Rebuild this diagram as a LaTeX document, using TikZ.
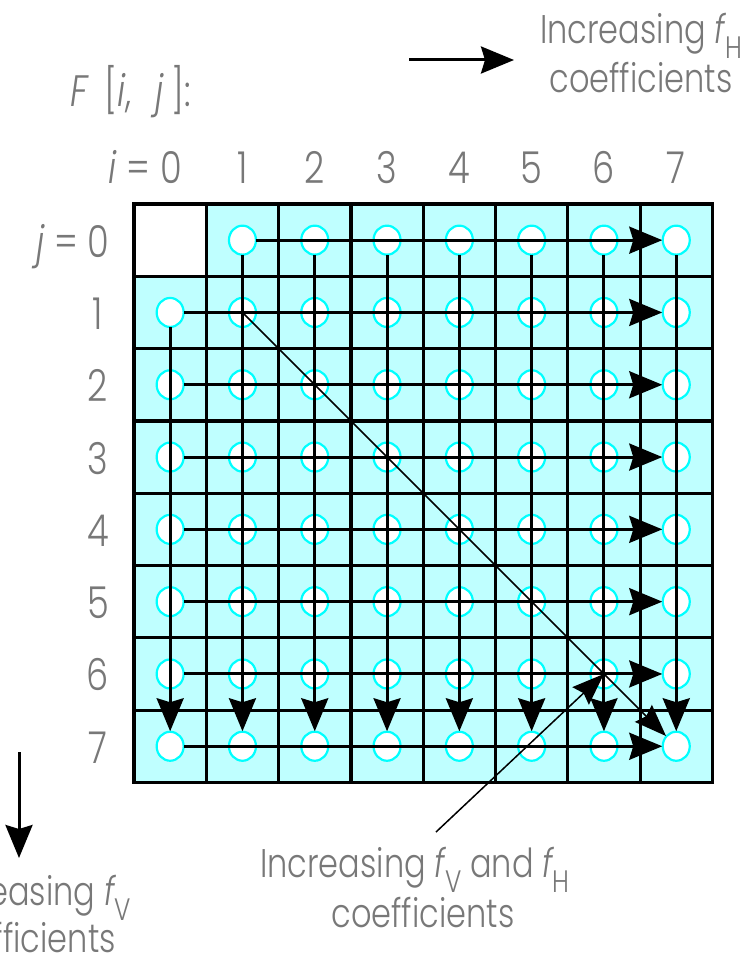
\documentclass[tikz,border=0pt]{standalone}
\usepackage{fontspec}
\IfFontExistsTF{Poppins Light}{\setmainfont{Poppins Light}[FakeStretch=0.8]}{\setmainfont{Poppins}[FakeStretch=0.8]}
\usetikzlibrary{arrows.meta,shapes.geometric}
\definecolor{cellfill}{RGB}{191,255,255}
\definecolor{ringcol}{RGB}{0,255,255}
\definecolor{txtgray}{RGB}{120,120,120}
\newcommand{\myfsub}[1]{{\itshape f}\raisebox{-15pt}{\fontsize{31}{33}\selectfont #1}}
\begin{document}
\begin{tikzpicture}[x=1pt,y=-1pt,
  cellbox/.style={draw=black, line width=3.2pt, fill=cellfill, minimum size=72.3pt, inner sep=0pt, outer sep=0pt},
  blankbox/.style={cellbox, fill=white},
  ring/.style={ellipse, draw=ringcol, line width=2.2pt, fill=white, minimum width=27pt, minimum height=29pt, inner sep=0pt, outer sep=0.5pt},
  flow/.style={line width=3pt, -{Stealth[length=33pt,width=27pt,inset=4pt]}},
  diag/.style={line width=1.5pt, -{Stealth[length=32pt,width=24pt,inset=4pt]}},
  lbl/.style={text=txtgray, font=\fontsize{44}{50}\selectfont, inner sep=0pt},
  captxt/.style={text=txtgray, font=\fontsize{40}{46}\selectfont, inner sep=0pt},
]
\useasboundingbox (0,0) rectangle (754,955);
\clip (0,0) rectangle (754,955);
% grid cells
\foreach \r in {0,...,7}{
  \foreach \c in {0,...,7}{
    \ifnum\r=0 \ifnum\c=0
      \node[blankbox] (k-\r-\c) at ({134+72.3*(\c+0.5)},{204+72.3*(\r+0.5)}) {};
    \else
      \node[cellbox] (k-\r-\c) at ({134+72.3*(\c+0.5)},{204+72.3*(\r+0.5)}) {};
    \fi\else
      \node[cellbox] (k-\r-\c) at ({134+72.3*(\c+0.5)},{204+72.3*(\r+0.5)}) {};
    \fi
  }
}
% coefficient circles
\foreach \r in {0,...,7}{
  \foreach \c in {0,...,7}{
    \ifnum\r=0 \ifnum\c=0 \else
      \node[ring] (c-\r-\c) at (k-\r-\c.center) {};
    \fi\else
      \node[ring] (c-\r-\c) at (k-\r-\c.center) {};
    \fi
  }
}
% horizontal flows
\draw[flow] (c-0-1) -- (c-0-7);
\foreach \r in {1,...,7}{ \draw[flow] (c-\r-0) -- (c-\r-7); }
% vertical flows
\draw[flow] (c-1-0) -- (c-7-0);
\foreach \c in {1,...,7}{ \draw[flow] (c-0-\c) -- (c-7-\c); }
% diagonal
\draw[diag] (c-1-1.center) -- (c-7-7);
\coordinate (pstart) at (436,832);
\draw[diag] (pstart) -- (c-6-6.center);
% legend arrows
\coordinate (ta) at (409,60);
\coordinate (tb) at (514,60);
\draw[flow] (ta) -- (tb);
\coordinate (la) at (19,752);
\coordinate (lb) at (19,858);
\draw[flow] (la) -- (lb);
% column labels
\node[lbl, anchor=base] (col0) at (171,183) {0};
\node[lbl, anchor=base east] (ieq) at (150,183) {{\itshape i} =};
\foreach \c in {1,...,7}{
  \node[lbl, anchor=base] (col\c) at ({134+72.3*(\c+0.5)},183) {\c};
}
% row labels
\foreach \r in {0,...,7}{
  \node[lbl, anchor=base] (row\r) at (98,{204+72.3*(\r+0.5)+17}) {\r};
}
\node[lbl, anchor=base east] (jeq) at (78,257) {{\itshape j} =};
% title
\node[lbl, anchor=base west] (title) at (70,107) {{\itshape F}\, [{\itshape i},\,\, {\itshape j}\,]:};
% captions
\node[captxt, anchor=base west] (capH1) at (540,44) {Increasing \myfsub{H}};
\node[captxt, anchor=base] (capH2) at (641,93) {coefficients};
\node[captxt, anchor=base west] (capD1) at (260,877) {Increasing \myfsub{V} and \myfsub{H}};
\node[captxt, anchor=base] (capD2) at (423,927) {coefficients};
\node[captxt, anchor=base east] (capV1) at (131,905) {Increasing \myfsub{V}};
\node[captxt, anchor=base east] (capV2) at (116,952) {coefficients};
\end{tikzpicture}
\end{document}
